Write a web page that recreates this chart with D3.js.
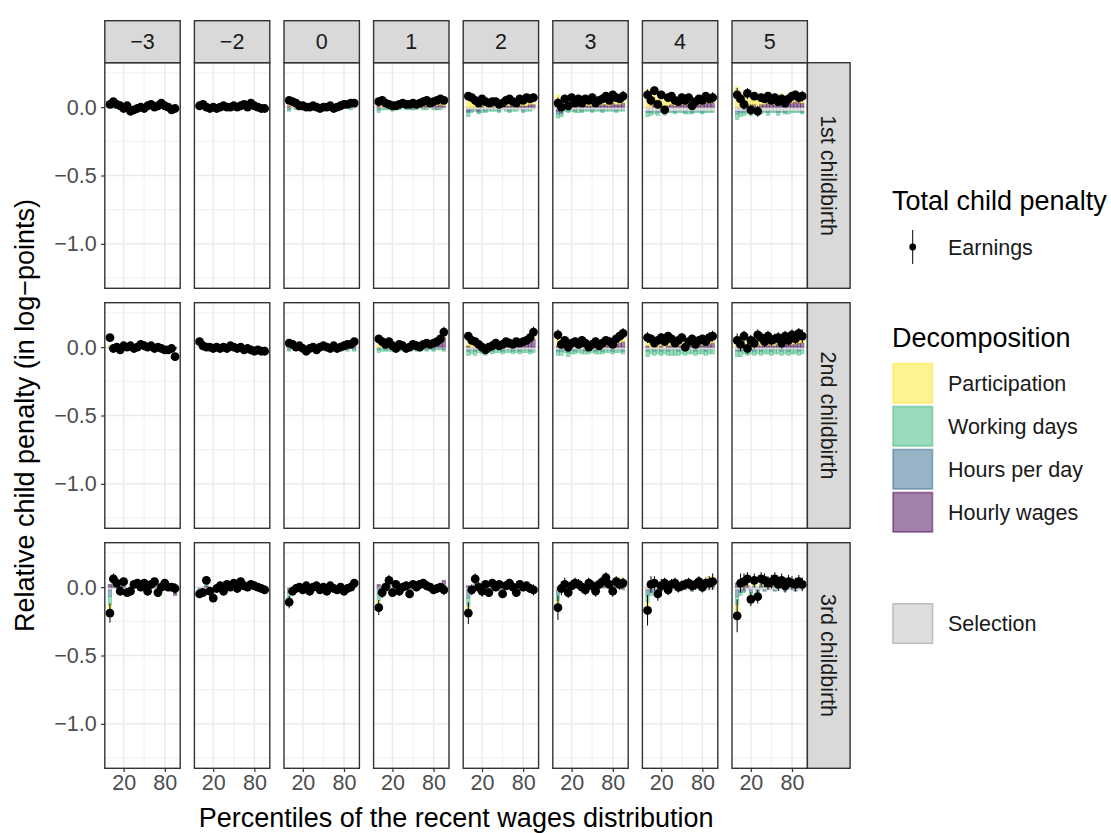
<!DOCTYPE html>
<html><head><meta charset="utf-8">
<script src="https://cdn.jsdelivr.net/npm/d3@7"></script>
<style>body{margin:0;background:#fff}svg{display:block}</style>
</head><body><svg id="chart" width="1111" height="833"></svg>
<script>
// ---------- data ----------
const eventTimes = ["−3","−2","0","1","2","3","4","5"];
const childbirths = ["1st childbirth","2nd childbirth","3rd childbirth"];
const percentiles = [0,5,10,15,20,25,30,35,40,45,50,55,60,65,70,75,80,85,90,95];
const xTickValues = [20,80];
const xMinorValues = [50];
const yTickValues = [0,-0.5,-1];
const yTickLabels = ["0.0","−0.5","−1.0"];
const yMinorValues = [0.25,-0.25,-0.75,-1.25];
const componentNames = ["Participation","Working days","Hours per day","Hourly wages"];
const componentColors = ["#FDE725","#35B779","#31688E","#440154"];
const selectionName = "Selection";
const selectionColor = "#BEBEBE";

// Total child penalty on earnings (point estimates), one array per event time
const earn1 = [
 [.02,.04,.02,.01,-.01,.01,-.03,-.02,-.01,.0,-.01,.01,.02,.0,.01,.03,.01,.0,-.02,-.01],
 [.01,.02,.0,-.01,.0,-.01,.0,.01,.0,.0,.01,.0,.01,.02,.0,.03,.01,.0,-.01,-.01],
 [.05,.04,.03,.01,.01,.0,.0,.01,.0,-.01,.0,.0,.01,-.01,.0,.01,.02,.02,.03,.03],
 [.04,.05,.03,.02,.01,.01,.02,.03,.02,.02,.03,.02,.03,.04,.05,.03,.04,.05,.06,.05],
 [.08,.07,.05,.03,.06,.04,.03,.04,.04,.02,.03,.05,.06,.04,.03,.06,.05,.07,.06,.07],
 [.03,.0,.06,.01,.07,.03,.06,.03,.06,.05,.07,.03,.05,.06,.08,.05,.09,.07,.06,.08],
 [.09,.05,.12,.02,.09,-.02,.07,.08,.05,.04,.07,.05,.07,.01,.04,.06,.05,.08,.06,.07],
 [.09,.06,.02,.10,-.02,.08,-.03,.07,.06,.08,.05,.07,.04,.06,.03,.06,.08,.09,.07,.08]
];
const earn2 = [
 [.07,-.01,.0,-.02,.01,.0,.01,-.01,.0,.02,.01,.0,.01,-.01,.0,-.01,-.02,-.02,-.01,-.07],
 [.04,.01,.0,.0,-.01,.0,-.01,.0,-.01,.01,.0,-.01,.0,-.02,-.01,-.02,-.03,-.02,-.03,-.03],
 [.03,.02,.0,.01,-.01,-.03,-.01,.0,-.02,.0,.01,.0,-.01,.01,-.01,.0,.01,.02,.02,.04],
 [.06,.04,.02,.04,.01,-.01,.02,.01,-.01,.0,.02,.01,.0,.02,.03,.02,.03,.04,.06,.11],
 [.08,.05,.04,.02,.0,-.02,.0,.01,.03,.01,.02,.04,.03,.02,.04,.03,.04,.05,.07,.11],
 [.09,.02,.05,.0,.03,.04,.02,.05,.03,.0,.02,.04,.01,.03,.05,.04,.02,.06,.08,.10],
 [.07,.06,.03,.05,.07,.04,.08,.06,.03,.05,.07,.0,.04,.06,.02,.05,.06,.04,.07,.08],
 [.05,.02,.08,-.01,.05,.03,.09,.07,.04,.08,.05,.06,.07,.03,.08,.05,.09,.06,.10,.08]
];
const earn3 = [
 [-.19,.06,.03,-.03,.04,-.04,-.03,.02,.03,.0,.03,-.03,.02,.04,-.04,.0,.03,.0,.0,-.01],
 [-.05,-.04,.05,-.03,-.08,-.01,.01,-.03,.02,.0,.03,-.01,.04,.01,.0,.02,.01,.0,-.01,-.02],
 [-.11,-.03,-.01,.0,-.02,.01,-.03,.0,.01,-.02,.0,-.03,.01,-.01,-.02,.0,-.03,-.01,.0,.03],
 [-.15,-.04,.0,.05,-.04,.02,-.03,.0,.01,-.05,.02,.0,.02,.03,.01,.0,-.02,-.01,.0,-.02],
 [-.19,-.02,.06,.0,-.03,.02,-.04,.03,.0,.02,-.05,.01,.03,.0,-.04,.02,.0,.01,-.01,-.02],
 [-.15,-.01,.02,-.04,.01,.03,.02,.0,-.02,.03,.01,-.03,.02,.04,.07,.02,-.03,.04,.02,.03],
 [-.17,.02,.03,-.05,.01,.03,-.02,.02,.03,.0,.01,.02,.03,.01,.02,.04,.0,.03,.03,.04],
 [-.21,.03,.04,.06,-.09,.05,-.07,.06,.05,.03,.04,.06,.02,.05,.01,.04,.03,.02,.04,.02]
];
// half-width of the 95% confidence intervals
const ci1 = [
 [.02,.02,.02,.02,.02,.02,.02,.02,.02,.02,.02,.02,.02,.02,.02,.02,.02,.02,.02,.02],
 [.02,.02,.02,.02,.02,.02,.02,.02,.02,.02,.02,.02,.02,.02,.02,.02,.02,.02,.02,.02],
 [.02,.02,.02,.02,.02,.02,.02,.02,.02,.02,.02,.02,.02,.02,.02,.02,.02,.02,.02,.02],
 [.02,.02,.02,.02,.02,.02,.02,.02,.02,.02,.02,.02,.02,.02,.02,.02,.02,.02,.02,.03],
 [.03,.03,.02,.02,.02,.02,.02,.02,.02,.02,.02,.02,.02,.02,.02,.02,.02,.03,.03,.03],
 [.04,.03,.03,.03,.03,.03,.03,.03,.03,.02,.03,.03,.03,.03,.03,.03,.03,.03,.03,.04],
 [.04,.04,.03,.03,.03,.03,.03,.03,.03,.03,.03,.03,.03,.03,.03,.03,.03,.03,.03,.04],
 [.05,.04,.04,.04,.04,.03,.04,.03,.03,.03,.03,.03,.03,.03,.03,.03,.03,.03,.04,.04]
];
const ci2 = [
 [.02,.02,.02,.02,.02,.02,.02,.02,.02,.02,.02,.02,.02,.02,.02,.02,.02,.02,.02,.03],
 [.02,.02,.02,.02,.02,.02,.02,.02,.02,.02,.02,.02,.02,.02,.02,.02,.02,.02,.02,.02],
 [.02,.02,.02,.02,.02,.02,.02,.02,.02,.02,.02,.02,.02,.02,.02,.02,.02,.02,.02,.02],
 [.03,.02,.02,.02,.02,.02,.02,.02,.02,.02,.02,.02,.02,.02,.02,.02,.02,.02,.03,.04],
 [.03,.03,.02,.02,.02,.02,.02,.02,.02,.02,.02,.02,.02,.02,.02,.02,.02,.03,.03,.04],
 [.04,.03,.03,.03,.03,.03,.03,.03,.03,.03,.03,.03,.03,.03,.03,.03,.03,.03,.03,.04],
 [.04,.03,.03,.03,.03,.03,.03,.03,.03,.03,.03,.03,.03,.03,.03,.03,.03,.03,.04,.04],
 [.05,.05,.04,.04,.04,.04,.04,.04,.04,.04,.04,.04,.04,.04,.04,.04,.04,.04,.04,.05]
];
const ci3 = [
 [.07,.04,.04,.03,.03,.03,.03,.03,.03,.03,.03,.03,.03,.03,.03,.03,.03,.03,.03,.04],
 [.03,.03,.03,.03,.03,.03,.03,.03,.03,.03,.03,.03,.03,.03,.03,.03,.03,.03,.03,.03],
 [.045,.03,.03,.03,.03,.03,.03,.03,.03,.03,.03,.03,.03,.03,.03,.03,.03,.03,.03,.03],
 [.055,.04,.04,.04,.03,.03,.03,.03,.03,.03,.03,.03,.03,.03,.03,.03,.03,.03,.03,.04],
 [.08,.04,.04,.04,.04,.03,.03,.03,.03,.03,.03,.03,.03,.03,.03,.03,.03,.03,.03,.04],
 [.09,.05,.05,.04,.04,.04,.04,.04,.04,.04,.04,.04,.04,.04,.04,.04,.04,.04,.04,.04],
 [.11,.06,.05,.05,.05,.04,.04,.04,.04,.04,.04,.04,.04,.04,.04,.04,.04,.04,.05,.06],
 [.12,.07,.06,.05,.05,.05,.05,.05,.05,.05,.05,.05,.05,.05,.05,.05,.05,.05,.05,.05]
];
// Decomposition components
const part1 = [
 [.01,.01,.01,.0,.0,.01,.0,.0,.0,.01,.0,.01,.01,.0,.01,.01,.01,.01,.02,.01],
 [.01,.01,.01,.01,.0,.0,.01,.01,.0,.01,.01,.0,.01,.01,.01,.01,.01,.01,.01,.0],
 [.05,.04,.04,.03,.03,.03,.03,.03,.02,.02,.03,.03,.02,.02,.02,.03,.03,.03,.03,.03],
 [.06,.05,.04,.03,.03,.03,.03,.04,.03,.03,.04,.03,.03,.04,.04,.03,.04,.04,.04,.04],
 [.11,.09,.07,.05,.07,.05,.05,.05,.05,.04,.04,.06,.06,.05,.04,.06,.05,.06,.05,.06],
 [.09,.06,.08,.04,.08,.05,.07,.05,.07,.06,.07,.05,.06,.06,.07,.06,.07,.06,.05,.06],
 [.13,.09,.12,.06,.10,.04,.08,.08,.07,.06,.07,.06,.07,.04,.05,.06,.06,.07,.06,.06],
 [.15,.11,.08,.11,.05,.09,.05,.08,.07,.08,.06,.07,.06,.07,.05,.06,.07,.08,.07,.07]
];
const days1 = [
 [.0,-.01,.0,-.01,.0,.0,-.01,.0,.0,.0,-.01,.0,.0,.0,.0,.0,.0,.0,-.01,.0],
 [.0,.0,-.01,.0,.0,.0,.0,.0,.0,.0,.0,-.01,.0,.0,.0,.0,.0,.0,.0,.0],
 [-.01,.0,-.01,.0,-.01,.0,.0,-.01,.0,-.01,.0,.0,-.01,.0,.0,-.01,.0,.0,-.01,.0],
 [-.02,-.01,-.01,-.01,-.01,-.01,-.01,.0,-.01,-.01,.0,-.01,.0,-.01,-.01,.0,-.01,.0,-.01,.0],
 [-.03,-.01,-.01,-.01,-.02,-.01,-.01,-.01,-.01,-.01,.0,-.01,-.01,-.01,-.01,.0,-.01,-.01,-.01,.0],
 [-.03,-.02,-.01,-.01,-.01,-.01,-.02,-.01,-.01,-.01,-.01,-.01,-.01,-.01,-.01,-.01,-.01,-.01,-.01,-.01],
 [-.03,-.02,-.02,-.02,-.01,-.02,-.01,-.01,-.01,-.01,-.01,-.01,-.02,-.01,-.01,-.01,-.01,-.01,-.01,-.01],
 [-.04,-.03,-.02,-.02,-.02,-.02,-.02,-.02,-.01,-.02,-.01,-.01,-.02,-.01,-.01,-.02,-.01,-.01,-.01,-.01]
];
const hours1 = [
 [.0,.0,.0,.0,.0,.0,.0,.0,.0,.0,.0,.0,.0,.0,.0,.0,.0,.0,.0,.0],
 [.0,.0,.0,.0,.0,.0,.0,.0,.0,.0,.0,.0,.0,.0,.0,.0,.0,.0,.0,.0],
 [-.01,.0,.0,.0,.0,.0,.0,.0,.0,-.01,.0,.0,.0,.0,.0,.0,.0,.0,.0,.0],
 [-.01,.0,.0,.0,-.01,.0,.0,.0,.0,.0,-.01,.0,.0,.0,.0,.0,.0,-.01,.0,.0],
 [-.01,-.01,.0,-.01,.0,-.01,.0,.0,.0,-.01,.0,.0,-.01,.0,.0,.0,-.01,.0,.0,.0],
 [-.02,-.01,.0,-.01,.0,-.01,.0,-.01,.0,.0,-.01,.0,.0,-.01,.0,.0,.0,-.01,.0,.0],
 [-.01,-.01,.0,-.01,.0,-.01,.0,.0,-.01,.0,.0,-.01,.0,-.01,.0,.0,-.01,.0,.0,.0],
 [-.02,-.01,-.01,.0,-.01,.0,-.01,.0,.0,-.01,.0,.0,-.01,.0,-.01,.0,.0,.0,.0,-.01]
];
const wage1 = [
 [.01,.01,.0,.0,.0,.0,-.01,-.01,.0,.0,.0,.0,.0,.0,.0,.0,.0,.0,-.01,-.01],
 [.0,.0,.0,.0,.0,.0,.0,.0,.0,.0,.0,.0,.0,.0,.0,.0,.0,.0,.0,.0],
 [.01,.0,.0,-.01,.0,.0,.0,.0,.0,.0,.0,.0,.0,.0,.0,.0,.0,.0,.01,.0],
 [.01,.0,.0,.0,.0,.0,.0,.01,.0,.01,.01,.0,.01,.01,.01,.0,.01,.01,.02,.01],
 [-.01,.0,.0,-.01,.01,.0,.0,.01,.0,.0,.0,.01,.01,.01,.0,.01,.01,.01,.02,.02],
 [-.01,-.02,.01,.0,.01,.0,.01,.0,.01,.01,.01,.0,.01,.02,.02,.01,.03,.02,.02,.03],
 [.0,.0,.02,.0,.01,.0,.01,.02,.01,.01,.02,.02,.02,.01,.01,.02,.02,.03,.03,.03],
 [.0,.0,.0,.02,.0,.02,.0,.02,.02,.03,.02,.02,.02,.03,.02,.03,.03,.04,.03,.03]
];
const sel1 = [
 [.0,.0,.0,.0,.0,.0,.0,.0,.0,.0,.0,.0,.0,.0,.0,.0,.0,.0,.0,.0],
 [.0,.0,.0,.0,.0,.0,.0,.0,.0,.0,.0,.0,.0,.0,.0,.0,.0,.0,.0,.0],
 [-.01,-.01,-.01,-.01,-.01,-.01,-.01,-.01,-.01,-.01,-.01,-.01,-.01,-.01,-.01,-.01,-.01,-.01,-.01,-.01],
 [-.01,-.01,-.01,-.01,-.01,-.01,-.01,-.01,-.01,-.01,-.01,-.01,-.01,-.01,-.01,-.01,-.01,-.01,-.01,-.01],
 [-.02,-.02,-.02,-.02,-.02,-.02,-.02,-.02,-.02,-.02,-.02,-.02,-.02,-.02,-.02,-.02,-.02,-.02,-.02,-.02],
 [-.02,-.02,-.02,-.02,-.02,-.02,-.02,-.02,-.02,-.02,-.02,-.02,-.02,-.02,-.02,-.02,-.02,-.02,-.02,-.02],
 [-.03,-.03,-.03,-.03,-.03,-.03,-.03,-.03,-.03,-.03,-.03,-.03,-.03,-.03,-.03,-.03,-.03,-.03,-.03,-.03],
 [-.03,-.03,-.03,-.03,-.03,-.03,-.03,-.03,-.03,-.03,-.03,-.03,-.03,-.03,-.03,-.03,-.03,-.03,-.03,-.03]
];
const part2 = [
 [.01,.0,.0,.0,.0,.0,.01,.0,.0,.01,.0,.0,.0,.0,.0,.0,.0,.0,.0,.0],
 [.0,.0,.0,.0,.0,.0,.0,.0,.0,.0,.0,.0,.0,.0,.0,.0,.0,.0,.0,.0],
 [.03,.02,.01,.02,.01,.0,.01,.01,.0,.01,.02,.01,.01,.02,.01,.01,.02,.02,.02,.02],
 [.06,.05,.03,.04,.02,.01,.03,.02,.01,.02,.03,.02,.02,.03,.03,.03,.03,.03,.04,.04],
 [.08,.06,.05,.04,.03,.02,.03,.03,.04,.03,.03,.04,.04,.03,.04,.04,.04,.04,.05,.06],
 [.09,.05,.06,.03,.05,.05,.04,.05,.04,.03,.04,.05,.03,.04,.05,.04,.04,.05,.05,.06],
 [.08,.07,.05,.06,.07,.05,.07,.06,.05,.05,.06,.03,.05,.06,.04,.05,.05,.04,.05,.06],
 [.08,.05,.08,.03,.06,.05,.08,.07,.05,.07,.06,.06,.07,.05,.07,.06,.07,.06,.07,.07]
];
const days2 = [
 [-.01,.0,.0,.0,.0,.0,.0,.0,.0,.0,.0,.0,.0,.0,.0,.0,.0,.0,.0,-.01],
 [.0,.0,.0,.0,.0,.0,.0,.0,.0,.0,.0,.0,.0,.0,.0,.0,.0,.0,.0,.0],
 [-.01,.0,-.01,.0,-.01,-.01,.0,-.01,-.01,.0,-.01,.0,-.01,.0,-.01,.0,.0,-.01,.0,-.01],
 [-.02,-.02,-.01,-.02,-.01,-.02,-.01,-.01,-.02,-.01,-.01,-.01,-.02,-.01,-.01,-.01,-.01,-.01,-.01,-.01],
 [-.03,-.03,-.03,-.02,-.02,-.03,-.02,-.02,-.02,-.02,-.02,-.02,-.02,-.02,-.02,-.02,-.02,-.02,-.02,-.02],
 [-.03,-.03,-.02,-.03,-.03,-.02,-.02,-.03,-.02,-.03,-.02,-.02,-.03,-.02,-.02,-.02,-.02,-.02,-.02,-.02],
 [-.04,-.03,-.03,-.03,-.03,-.03,-.03,-.04,-.04,-.03,-.03,-.03,-.03,-.03,-.03,-.03,-.03,-.03,-.03,-.03],
 [-.04,-.04,-.03,-.03,-.03,-.03,-.03,-.03,-.03,-.03,-.03,-.03,-.03,-.03,-.03,-.03,-.03,-.03,-.03,-.03]
];
const hours2 = [
 [.0,.0,.0,.0,.0,.0,.0,.0,.0,.0,.0,.0,.0,.0,.0,.0,.0,.0,.0,.0],
 [.0,.0,.0,.0,.0,.0,.0,.0,.0,.0,.0,.0,.0,.0,.0,.0,.0,.0,.0,.0],
 [-.01,.0,.0,-.01,.0,.0,-.01,.0,.0,-.01,.0,.0,-.01,.0,.0,-.01,.0,-.01,.0,-.01],
 [-.01,.0,-.01,.0,-.01,.0,-.01,.0,.0,-.01,.0,-.01,.0,.0,-.01,.0,-.01,.0,.0,-.01],
 [-.01,.0,-.01,.0,-.01,.0,.0,-.01,.0,.0,-.01,.0,.0,-.01,.0,-.01,.0,.0,-.01,.0],
 [-.01,-.01,.0,-.01,.0,-.01,.0,.0,-.01,.0,.0,-.01,.0,-.01,.0,.0,-.01,.0,.0,-.01],
 [-.01,.0,-.01,.0,-.01,.0,-.01,.0,.0,-.01,.0,-.01,.0,.0,-.01,.0,.0,-.01,.0,.0],
 [-.01,-.01,.0,-.01,.0,-.01,.0,-.01,.0,.0,-.01,.0,.0,-.01,.0,-.01,.0,.0,-.01,.0]
];
const wage2 = [
 [.0,-.01,.0,.0,.0,.0,.0,.0,.0,.0,.0,.0,.0,.0,.0,.0,.0,.0,.0,-.01],
 [.0,.0,.0,.0,.0,.0,.0,.0,.0,.0,.0,.0,.0,.0,.0,.0,.0,.0,.0,.0],
 [.0,.0,.0,.0,.0,.0,.0,.0,.0,.0,.0,.0,.0,.0,.0,.0,.0,.0,.0,.01],
 [.0,.0,.0,.0,.0,.0,.0,.0,.0,.0,.01,.01,.01,.01,.02,.02,.02,.03,.04,.07],
 [.01,.0,.0,.0,.0,-.01,.0,.0,.01,.0,.01,.01,.01,.01,.02,.02,.02,.03,.04,.06],
 [.01,.0,.0,-.01,.0,.0,.0,.01,.0,.0,.01,.01,.0,.01,.01,.01,.01,.02,.03,.04],
 [.01,.0,.0,.0,.01,.0,.01,.01,.0,.01,.01,.0,.01,.01,.0,.01,.02,.01,.02,.03],
 [.0,.0,.01,.0,.01,.0,.02,.01,.01,.02,.01,.01,.02,.01,.02,.02,.02,.02,.03,.03]
];
const sel2 = [
 [.0,.0,.0,.0,.0,.0,.0,.0,.0,.0,.0,.0,.0,.0,.0,.0,.0,.0,.0,.0],
 [.0,.0,.0,.0,.0,.0,.0,.0,.0,.0,.0,.0,.0,.0,.0,.0,.0,.0,.0,.0],
 [-.01,-.01,-.01,-.01,-.01,-.01,-.01,-.01,-.01,-.01,-.01,-.01,-.01,-.01,-.01,-.01,-.01,-.01,-.01,-.01],
 [-.01,-.01,-.01,-.01,-.01,-.01,-.01,-.01,-.01,-.01,-.01,-.01,-.01,-.01,-.01,-.01,-.01,-.01,-.01,-.01],
 [-.02,-.02,-.02,-.02,-.02,-.02,-.02,-.02,-.02,-.02,-.02,-.02,-.02,-.02,-.02,-.02,-.02,-.02,-.02,-.02],
 [-.02,-.02,-.02,-.02,-.02,-.02,-.02,-.02,-.02,-.02,-.02,-.02,-.02,-.02,-.02,-.02,-.02,-.02,-.02,-.02],
 [-.02,-.02,-.02,-.02,-.02,-.02,-.02,-.02,-.02,-.02,-.02,-.02,-.02,-.02,-.02,-.02,-.02,-.02,-.02,-.02],
 [-.02,-.02,-.02,-.02,-.02,-.02,-.02,-.02,-.02,-.02,-.02,-.02,-.02,-.02,-.02,-.02,-.02,-.02,-.02,-.02]
];
const part3 = [
 [-.03,.02,.01,-.02,.01,-.03,-.02,.01,.01,.0,.01,-.03,.01,.01,-.02,.0,.01,.0,.01,.02],
 [-.02,-.02,.02,-.01,-.03,.0,.01,-.01,.01,.0,.01,-.01,.01,.0,.0,.01,.0,.0,-.01,-.01],
 [-.03,-.01,.0,.0,-.01,.01,-.01,.0,.0,-.01,.0,-.01,.0,.0,-.01,.0,-.01,.0,.0,.01],
 [-.04,-.02,.0,.02,-.02,.01,-.02,.0,.0,-.03,.01,.0,.01,.01,.0,.0,-.01,.0,.0,-.01],
 [-.05,-.01,.03,.0,-.02,.01,-.02,.01,.0,.01,-.03,.0,.01,.0,-.02,.01,.0,.01,.0,-.01],
 [-.04,.03,.02,-.02,.01,.02,.01,.0,-.01,.02,.01,-.02,.01,.02,.03,.01,-.01,.02,.01,.02],
 [-.05,.05,.03,-.02,.01,.02,-.01,.01,.02,.0,.01,.01,.02,.01,.01,.02,.0,.02,.02,.02],
 [-.05,.03,.04,.04,-.03,.03,-.02,.04,.03,.02,.03,.04,.01,.03,.01,.03,.02,.01,.02,.01]
];
const days3 = [
 [-.06,.03,.01,-.01,.02,-.01,-.01,.01,.01,.0,.01,-.01,.01,.02,-.01,.0,.01,.0,-.01,.0],
 [-.02,-.01,.02,-.01,-.03,.0,.0,-.01,.01,.0,.01,.0,.01,.01,.0,.01,.0,.0,.0,-.01],
 [-.04,-.01,.01,.0,.0,.0,-.01,.0,.0,-.01,.0,-.01,.0,.0,.0,.0,-.01,.0,.0,.01],
 [-.05,-.01,.0,.02,-.01,.01,-.01,.0,.01,-.01,.01,.0,.01,.01,.0,.0,-.01,.0,.0,-.01],
 [-.06,-.01,.02,.0,-.01,.01,-.02,.01,.0,.01,-.02,.0,.01,.0,-.02,.01,.0,.0,.0,.0],
 [-.05,-.02,.0,-.02,.0,.01,.0,.0,-.01,.01,.0,-.02,.01,.01,.02,.0,-.02,.01,.0,.0],
 [-.05,-.02,.0,-.02,.0,.01,-.01,.0,.01,.0,.0,.0,.01,.0,.0,.01,.0,.01,.0,.01],
 [-.06,-.02,-.01,.0,-.04,.01,-.03,.01,.01,.0,.0,.01,.0,.01,.0,.0,.0,.0,.01,.0]
];
const hours3 = [
 [-.05,.0,.0,-.01,.0,.0,.0,.0,.0,.0,.0,-.01,.0,.0,.0,.0,.0,.0,.0,.0],
 [-.01,-.01,.0,.0,-.01,.0,.0,-.01,.0,.0,.0,.0,.0,.0,.0,.0,.0,.0,.0,.0],
 [-.03,-.01,.0,.0,-.01,.0,.0,.0,.0,.0,.0,-.01,.0,.0,.0,.0,.0,.0,.0,.0],
 [-.04,-.01,.0,.0,-.01,.0,.0,.0,.0,-.01,.0,.0,.0,.0,.0,.0,.0,.0,.0,.0],
 [-.06,-.01,.0,.0,-.01,.0,-.01,.0,.0,.0,-.01,.0,.0,.0,-.01,.0,.0,.0,.0,.0],
 [-.03,-.01,-.01,-.01,.0,.0,.0,.0,-.01,.0,.0,-.01,.0,.0,.0,.0,-.01,.0,.0,-.01],
 [-.04,-.02,-.01,-.01,-.01,.0,-.01,.0,.0,-.01,.0,.0,.0,-.01,.0,.0,-.01,.0,.0,.0],
 [-.05,-.02,-.01,.0,-.02,.0,-.01,.0,-.01,.0,.0,-.01,.0,.0,-.01,.0,.0,-.01,.0,.0]
];
const wage3 = [
 [.02,.01,.01,.01,.01,.0,.0,.0,.01,.0,.01,.01,.0,.01,.0,.0,.01,.0,.0,-.05],
 [.0,.0,.01,.0,.0,.0,.0,.0,.0,.0,.01,.0,.01,.0,.0,.0,.01,.0,.0,.0],
 [.0,.0,.0,.0,.0,.0,.0,.0,.01,.0,.0,.0,.01,.0,.0,.0,.0,.0,.0,.01],
 [.02,.0,.0,.01,.0,.0,.0,.0,.0,.0,.0,.0,.0,.01,.01,.0,.0,.0,.0,.05],
 [.01,.0,.01,.0,.0,.0,.0,.01,.0,.0,.0,.01,.01,.0,.0,.0,.0,.0,.0,.0],
 [.0,.0,.01,.0,.0,.0,.01,.0,.0,.0,.0,.0,.0,.01,.02,.01,.0,.01,.06,.03],
 [.0,.0,.01,.0,.0,.0,.0,.01,.0,.0,.0,.01,.0,.0,.01,.01,.0,.01,.06,.04],
 [.03,.01,.0,.01,.0,.0,.0,.01,.0,.0,.01,.0,.01,.0,.0,.01,.0,.0,.0,.0]
];
const sel3 = [
 [-.02,-.01,-.01,-.01,-.01,-.01,-.01,-.01,-.01,-.01,-.01,-.01,-.01,-.01,-.01,-.01,-.01,-.01,-.01,-.01],
 [-.01,-.01,-.01,-.01,-.01,-.01,-.01,-.01,-.01,-.01,-.01,-.01,-.01,-.01,-.01,-.01,-.01,-.01,-.01,-.01],
 [-.01,-.01,-.01,-.01,-.01,-.01,-.01,-.01,-.01,-.01,-.01,-.01,-.01,-.01,-.01,-.01,-.01,-.01,-.01,-.01],
 [-.01,-.01,-.01,-.01,-.01,-.01,-.01,-.01,-.01,-.01,-.01,-.01,-.01,-.01,-.01,-.01,-.01,-.01,-.01,-.01],
 [-.02,-.01,-.01,-.01,-.01,-.01,-.01,-.01,-.01,-.01,-.01,-.01,-.01,-.01,-.01,-.01,-.01,-.01,-.01,-.01],
 [-.02,-.01,-.01,-.01,-.01,-.01,-.01,-.01,-.01,-.01,-.01,-.01,-.01,-.01,-.01,-.01,-.01,-.01,-.01,-.01],
 [-.02,-.02,-.02,-.02,-.02,-.02,-.02,-.02,-.02,-.02,-.02,-.02,-.02,-.02,-.02,-.02,-.02,-.02,-.02,-.02],
 [-.02,-.02,-.02,-.02,-.02,-.02,-.02,-.02,-.02,-.02,-.02,-.02,-.02,-.02,-.02,-.02,-.02,-.02,-.02,-.02]
];

const earnRows = [earn1, earn2, earn3];
const ciRows = [ci1, ci2, ci3];
const compRows = [
  [part1, days1, hours1, wage1],
  [part2, days2, hours2, wage2],
  [part3, days3, hours3, wage3]
];
const selRows = [sel1, sel2, sel3];

// ---------- layout ----------
const FONT = "'Liberation Sans', Arial, Helvetica, sans-serif";
const svg = d3.select("#chart");
svg.append("rect").attr("width",1111).attr("height",833).attr("fill","#fff");

const panelW = 75.4, panelH = 225.6;
const left0 = 104.8, top0 = 62.7;
const colStep = 89.6, rowStep = 240;
const stripH = 42, stripW = 42.7;

const x = d3.scaleLinear().domain([-7.5, 102.5]).range([0, panelW]);
const y = d3.scaleLinear().domain([-1.325, 0.325]).range([panelH, 0]);
const barW = x(2.5) - x(-2.5);

const textCol = "#1A1A1A", tickCol = "#4D4D4D", lineCol = "#333333";

childbirths.forEach((cb, r) => {
  eventTimes.forEach((et, c) => {
    const px = left0 + c * colStep, py = top0 + r * rowStep;
    const g = svg.append("g").attr("transform", `translate(${px},${py})`);
    g.append("rect").attr("width", panelW).attr("height", panelH).attr("fill", "#fff");
    // minor grid
    g.selectAll(".vmin").data(xMinorValues).enter().append("line")
      .attr("x1", d => x(d)).attr("x2", d => x(d)).attr("y1", 0).attr("y2", panelH)
      .attr("stroke", "#EBEBEB").attr("stroke-width", 0.8);
    g.selectAll(".hmin").data(yMinorValues).enter().append("line")
      .attr("y1", d => y(d)).attr("y2", d => y(d)).attr("x1", 0).attr("x2", panelW)
      .attr("stroke", "#EBEBEB").attr("stroke-width", 0.8);
    // major grid
    g.selectAll(".vmaj").data(xTickValues).enter().append("line")
      .attr("x1", d => x(d)).attr("x2", d => x(d)).attr("y1", 0).attr("y2", panelH)
      .attr("stroke", "#EBEBEB").attr("stroke-width", 1.5);
    g.selectAll(".hmaj").data(yTickValues).enter().append("line")
      .attr("y1", d => y(d)).attr("y2", d => y(d)).attr("x1", 0).attr("x2", panelW)
      .attr("stroke", "#EBEBEB").attr("stroke-width", 1.5);

    // stacked decomposition bars
    const bars = [];
    percentiles.forEach((p, i) => {
      const vals = [
        {v: selRows[r][c][i], col: selectionColor},
        {v: compRows[r][3][c][i], col: componentColors[3]},
        {v: compRows[r][2][c][i], col: componentColors[2]},
        {v: compRows[r][1][c][i], col: componentColors[1]},
        {v: compRows[r][0][c][i], col: componentColors[0]}
      ];
      let pos = 0, neg = 0;
      vals.forEach(o => {
        if (o.v >= 0) { bars.push({p, y0: pos, y1: pos + o.v, col: o.col}); pos += o.v; }
        else { bars.push({p, y0: neg + o.v, y1: neg, col: o.col}); neg += o.v; }
      });
    });
    g.selectAll(".bar").data(bars.filter(b => b.y1 - b.y0 > 0)).enter().append("rect")
      .attr("x", d => x(d.p) - barW / 2).attr("width", barW)
      .attr("y", d => y(d.y1)).attr("height", d => y(d.y0) - y(d.y1))
      .attr("fill", d => d.col).attr("fill-opacity", 0.5)
      .attr("stroke", d => d.col).attr("stroke-opacity", 0.5).attr("stroke-width", 0.7);

    // error bars and points
    const pts = percentiles.map((p, i) => ({p, e: earnRows[r][c][i], ci: ciRows[r][c][i]}));
    g.selectAll(".err").data(pts).enter().append("line")
      .attr("x1", d => x(d.p)).attr("x2", d => x(d.p))
      .attr("y1", d => y(d.e - d.ci)).attr("y2", d => y(d.e + d.ci))
      .attr("stroke", "#000").attr("stroke-width", 1);
    g.selectAll(".pt").data(pts).enter().append("circle")
      .attr("cx", d => x(d.p)).attr("cy", d => y(d.e)).attr("r", 4.4).attr("fill", "#000");

    // border
    g.append("rect").attr("width", panelW).attr("height", panelH)
      .attr("fill", "none").attr("stroke", lineCol).attr("stroke-width", 1.4);

    // y axis
    if (c === 0) {
      const ax = g.append("g").call(d3.axisLeft(y).tickValues(yTickValues)
        .tickFormat((d, i) => yTickLabels[i]).tickSize(3.7).tickPadding(4.5));
      ax.select(".domain").remove();
      ax.selectAll("line").attr("stroke", lineCol).attr("stroke-width", 1.2);
      ax.selectAll("text").attr("fill", tickCol).style("font-family", FONT).style("font-size", "21.5px");
    }
    // x axis
    if (r === childbirths.length - 1) {
      const ax = g.append("g").attr("transform", `translate(0,${panelH})`)
        .call(d3.axisBottom(x).tickValues(xTickValues).tickSize(3.7).tickPadding(3));
      ax.select(".domain").remove();
      ax.selectAll("line").attr("stroke", lineCol).attr("stroke-width", 1.2);
      ax.selectAll("text").attr("fill", tickCol).style("font-family", FONT).style("font-size", "21.5px");
    }
    // top strips
    if (r === 0) {
      const s = svg.append("g").attr("transform", `translate(${px},${py - stripH})`);
      s.append("rect").attr("width", panelW).attr("height", stripH)
        .attr("fill", "#D9D9D9").attr("stroke", lineCol).attr("stroke-width", 1.4);
      s.append("text").attr("x", panelW / 2).attr("y", stripH / 2 + 7.7)
        .attr("text-anchor", "middle").attr("fill", textCol)
        .style("font-family", FONT).style("font-size", "21.5px").text(et);
    }
    // right strips
    if (c === eventTimes.length - 1) {
      const s = svg.append("g").attr("transform", `translate(${px + panelW},${py})`);
      s.append("rect").attr("width", stripW).attr("height", panelH)
        .attr("fill", "#D9D9D9").attr("stroke", lineCol).attr("stroke-width", 1.4);
      s.append("text").attr("transform", `translate(${stripW / 2 - 7.7},${panelH / 2}) rotate(90)`)
        .attr("text-anchor", "middle").attr("fill", textCol)
        .style("font-family", FONT).style("font-size", "21.5px").text(cb);
    }
  });
});

// axis titles
const plotMidX = left0 + (colStep * (eventTimes.length - 1) + panelW) / 2;
const plotMidY = top0 + (rowStep * (childbirths.length - 1) + panelH) / 2;
svg.append("text").attr("x", plotMidX).attr("y", 827).attr("text-anchor", "middle")
  .attr("fill", "#000").style("font-family", FONT).style("font-size", "27px")
  .text("Percentiles of the recent wages distribution");
svg.append("text").attr("transform", `translate(34.3,${plotMidY}) rotate(-90)`).attr("text-anchor", "middle")
  .attr("fill", "#000").style("font-family", FONT).style("font-size", "27px")
  .text("Relative child penalty (in log−points)");

// legend
const lg = svg.append("g");
const lx = 892;
lg.append("text").attr("x", lx).attr("y", 210).attr("fill", "#000")
  .style("font-family", FONT).style("font-size", "27px").text("Total child penalty");
lg.append("line").attr("x1", 912.7).attr("x2", 912.7).attr("y1", 230).attr("y2", 264)
  .attr("stroke", "#000").attr("stroke-width", 1);
lg.append("circle").attr("cx", 912.7).attr("cy", 247).attr("r", 3.4).attr("fill", "#000");
lg.append("text").attr("x", 948).attr("y", 255).attr("fill", textCol)
  .style("font-family", FONT).style("font-size", "21.5px").text("Earnings");

lg.append("text").attr("x", lx).attr("y", 347).attr("fill", "#000")
  .style("font-family", FONT).style("font-size", "27px").text("Decomposition");
const keyTop = 362.7, keyStep = 43, keySize = 40.5;
componentNames.forEach((nm, i) => {
  const ky = keyTop + i * keyStep;
  lg.append("rect").attr("x", lx + 1).attr("y", ky + 0.8).attr("width", keySize - 1).attr("height", keySize - 1)
    .attr("fill", componentColors[i]).attr("fill-opacity", 0.5)
    .attr("stroke", componentColors[i]).attr("stroke-opacity", 0.5).attr("stroke-width", 1.6);
  lg.append("text").attr("x", 948).attr("y", ky + keySize / 2 + 7.7).attr("fill", textCol)
    .style("font-family", FONT).style("font-size", "21.5px").text(nm);
});
const selY = 603;
lg.append("rect").attr("x", lx + 1).attr("y", selY + 0.8).attr("width", keySize - 1).attr("height", keySize - 1)
  .attr("fill", selectionColor).attr("fill-opacity", 0.5)
  .attr("stroke", selectionColor).attr("stroke-opacity", 1).attr("stroke-width", 1.6);
lg.append("text").attr("x", 948).attr("y", selY + keySize / 2 + 7.7).attr("fill", textCol)
  .style("font-family", FONT).style("font-size", "21.5px").text(selectionName);
</script>
</body></html>
